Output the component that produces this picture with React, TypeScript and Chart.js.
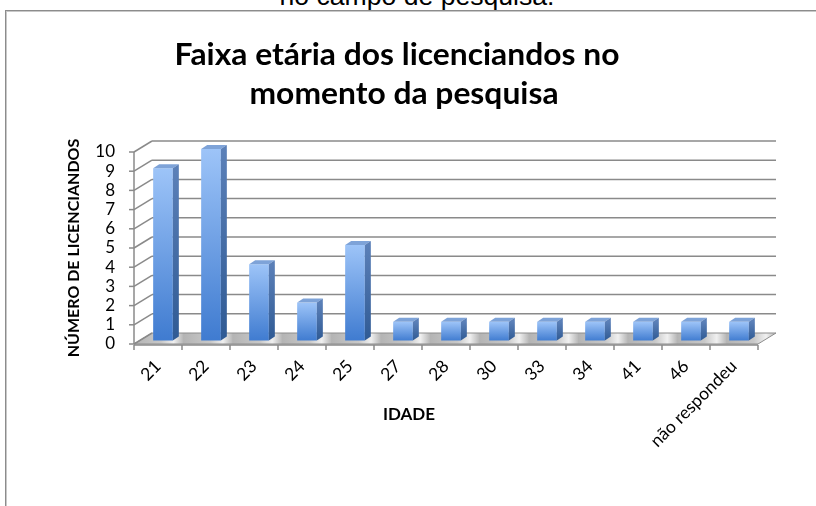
import React, { useEffect, useRef } from 'react';
import { Chart, registerables } from 'chart.js';

Chart.register(...registerables);

// ---- data ----
const categories = ['21', '22', '23', '24', '25', '27', '28', '30', '33', '34', '41', '46', 'não respondeu'];
const counts = [9, 10, 4, 2, 5, 1, 1, 1, 1, 1, 1, 1, 1];
const yMin = 0;
const yMax = 10;
const yStep = 1;
const titleLines = ['Faixa etária dos licenciandos no', 'momento da pesquisa'];
const xAxisTitle = 'IDADE';
const yAxisTitle = 'NÚMERO DE LICENCIANDOS';
const captionAbove = 'no campo de pesquisa.';

// ---- 3D look ----
const WALL_DX = 18;
const WALL_DY = -11;
const BAR_SHIFT_X = 5;
const BAR_SHIFT_Y = -3;
const BAR_DX = 6;
const BAR_DY = -4;

const FONT = 'Lato, "Open Sans", sans-serif';

const excel3d = {
  id: 'excel3d',
  beforeDatasetsDraw(chart: any) {
    const { ctx, chartArea: a, scales } = chart;
    const xs = scales.x;
    const ys = scales.y;
    ctx.save();
    // floor
    const b = ys.getPixelForValue(0);
    const floorGrad = ctx.createLinearGradient(a.left, 0, a.right + WALL_DX, 0);
    const n = categories.length;
    for (let i = 0; i < n; i++) {
      const p0 = i / n;
      floorGrad.addColorStop(p0, '#b4b4b4');
      floorGrad.addColorStop(Math.min(1, p0 + 0.55 / n), '#c8c8c8');
      floorGrad.addColorStop(Math.min(1, p0 + 0.8 / n), '#f0f0f0');
      floorGrad.addColorStop(Math.min(1, p0 + 0.98 / n), '#bcbcbc');
    }
    ctx.beginPath();
    ctx.moveTo(a.left, b);
    ctx.lineTo(a.right, b);
    ctx.lineTo(a.right + WALL_DX, b + WALL_DY);
    ctx.lineTo(a.left + WALL_DX, b + WALL_DY);
    ctx.closePath();
    ctx.fillStyle = floorGrad;
    ctx.fill();
    ctx.strokeStyle = '#8c8c8c';
    ctx.lineWidth = 1;
    ctx.stroke();

    // back wall gridlines + side wall slants
    ctx.lineWidth = 1.5;
    for (const t of ys.ticks) {
      const yf = ys.getPixelForValue(t.value);
      ctx.strokeStyle = '#8a8a8a';
      if (t.value > yMin) {
        ctx.beginPath();
        ctx.moveTo(a.left + WALL_DX, yf + WALL_DY);
        ctx.lineTo(a.right + WALL_DX, yf + WALL_DY);
        ctx.stroke();
      }
      ctx.beginPath();
      ctx.moveTo(a.left, yf);
      ctx.lineTo(a.left + WALL_DX, yf + WALL_DY);
      ctx.stroke();
      // front tick mark
      ctx.beginPath();
      ctx.moveTo(a.left - 5, yf);
      ctx.lineTo(a.left, yf);
      ctx.stroke();
    }
    // front vertical axis
    ctx.beginPath();
    ctx.moveTo(a.left, ys.getPixelForValue(yMax));
    ctx.lineTo(a.left, b);
    ctx.stroke();
    // front bottom edge with category ticks
    ctx.beginPath();
    ctx.moveTo(a.left, b + 1);
    ctx.lineTo(a.right, b + 1);
    ctx.stroke();
    const step = xs.getPixelForValue(1) - xs.getPixelForValue(0);
    for (let i = 0; i <= n; i++) {
      const xb = xs.getPixelForValue(0) - step / 2 + i * step;
      ctx.beginPath();
      ctx.moveTo(xb, b + 1);
      ctx.lineTo(xb, b + 6);
      ctx.stroke();
    }
    ctx.restore();
    ctx.save();
    ctx.translate(BAR_SHIFT_X, BAR_SHIFT_Y);
  },
  afterDatasetsDraw(chart: any) {
    const { ctx } = chart;
    const meta = chart.getDatasetMeta(0);
    for (const el of meta.data) {
      const { x, y, base, width } = el.getProps(['x', 'y', 'base', 'width'], true);
      const l = x - width / 2;
      const r = x + width / 2;
      // top face
      ctx.beginPath();
      ctx.moveTo(l, y);
      ctx.lineTo(r, y);
      ctx.lineTo(r + BAR_DX, y + BAR_DY);
      ctx.lineTo(l + BAR_DX, y + BAR_DY);
      ctx.closePath();
      ctx.fillStyle = '#7ea3d8';
      ctx.fill();
      // side face
      const sg = ctx.createLinearGradient(0, y, 0, base);
      sg.addColorStop(0, '#5b80b8');
      sg.addColorStop(1, '#2f5a94');
      ctx.beginPath();
      ctx.moveTo(r, y);
      ctx.lineTo(r + BAR_DX, y + BAR_DY);
      ctx.lineTo(r + BAR_DX, base + BAR_DY);
      ctx.lineTo(r, base);
      ctx.closePath();
      ctx.fillStyle = sg;
      ctx.fill();
    }
    ctx.restore();
  },
  afterDraw(chart: any) {
    const { ctx } = chart;
    ctx.save();
    ctx.fillStyle = '#000';
    ctx.textAlign = 'center';
    ctx.textBaseline = 'alphabetic';
    ctx.font = `bold 30px ${FONT}`;
    const drawStretched = (text: string, cx: number, by: number, sx: number) => {
      ctx.save();
      ctx.translate(cx, by);
      ctx.scale(sx, 1);
      ctx.fillText(text, 0, 0);
      ctx.restore();
    };
    drawStretched(titleLines[0], 397, 65, 1.06);
    drawStretched(titleLines[1], 404, 104, 1.06);
    ctx.font = `bold 17px ${FONT}`;
    ctx.textBaseline = 'middle';
    ctx.fillText(xAxisTitle, 409, 415);
    ctx.restore();
  },
};

export default function App() {
  const ref = useRef<HTMLCanvasElement>(null);
  useEffect(() => {
    if (!ref.current) return;
    const chart = new Chart(ref.current, {
      type: 'bar',
      data: {
        labels: categories,
        datasets: [
          {
            data: counts,
            clip: false as any,
            barPercentage: 0.41,
            categoryPercentage: 1,
            borderWidth: 0,
            backgroundColor: (c: any) => {
              const ch = c.chart;
              if (!ch.chartArea || c.type !== 'data') return '#6a9be0';
              const ys = ch.scales.y;
              const top = ys.getPixelForValue(c.raw);
              const bot = ys.getPixelForValue(0);
              const g = ch.ctx.createLinearGradient(0, top, 0, bot);
              g.addColorStop(0, '#9dc4f8');
              g.addColorStop(1, '#3f7bd0');
              return g;
            },
          },
        ],
      },
      options: {
        responsive: false,
        animation: false,
        events: [],
        layout: { padding: { left: 60, top: 152, right: 58, bottom: 0 } },
        plugins: { legend: { display: false }, tooltip: { enabled: false }, title: { display: false } },
        scales: {
          x: {
            afterFit: (s: any) => {
              s.height = 162;
            },
            grid: { display: true, drawOnChartArea: false, color: 'rgba(0,0,0,0)', tickLength: 8 },
            border: { display: false },
            ticks: {
              minRotation: 45,
              maxRotation: 45,
              autoSkip: false,
              padding: 4,
              color: '#000',
              font: { family: FONT, size: 17.5 },
            },
          },
          y: {
            min: yMin,
            max: yMax,
            afterFit: (s: any) => {
              s.width = 74;
            },
            grid: { display: true, drawOnChartArea: false, color: 'rgba(0,0,0,0)', tickLength: 8 },
            border: { display: false },
            ticks: {
              stepSize: yStep,
              autoSkip: false,
              padding: 11,
              color: '#000',
              font: { family: FONT, size: 17, lineHeight: 1 },
            },
            title: {
              display: true,
              text: yAxisTitle,
              color: '#000',
              padding: { top: 4, bottom: 0 },
              font: { family: FONT, size: 16, weight: 'bold' },
            },
          },
        },
      },
      plugins: [excel3d],
    });
    return () => chart.destroy();
  }, []);

  return (
    <div style={{ position: 'absolute', left: 0, top: 0, width: 816, height: 506, overflow: 'hidden', background: '#fff' }}>
      <div
        style={{
          position: 'absolute',
          left: 9,
          top: -17.5,
          width: 816,
          textAlign: 'center',
          fontFamily: '"Liberation Sans", Arial, sans-serif',
          fontSize: '26.6px',
          lineHeight: '26.6px',
          color: '#000',
          whiteSpace: 'nowrap',
        }}
      >
        {captionAbove}
      </div>
      <div
        style={{
          position: 'absolute',
          left: 5,
          top: 10,
          width: 900,
          height: 600,
          border: '1px solid #8c8c8c',
          boxShadow: 'inset 1px 1px 0 #c8c8c8',
        }}
      />
      <canvas ref={ref} width={816} height={506} style={{ position: 'absolute', left: 0, top: 0, width: 816, height: 506 }} />
    </div>
  );
}
